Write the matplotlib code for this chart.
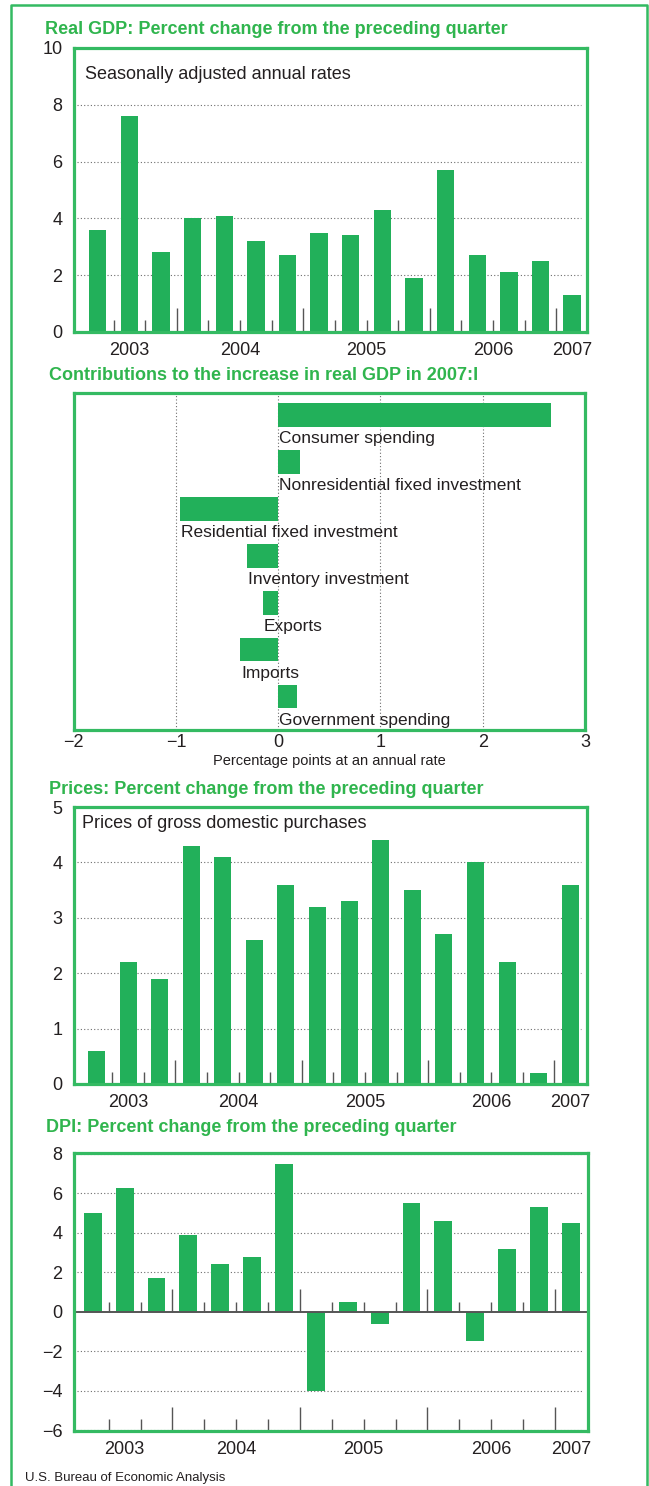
import matplotlib.pyplot as plt
from matplotlib.lines import Line2D

plt.rcParams['font.family'] = ['Liberation Sans', 'DejaVu Sans']

# quarters shown in the three bar panels
quarters = ['2003:II', '2003:III', '2003:IV',
            '2004:I', '2004:II', '2004:III', '2004:IV',
            '2005:I', '2005:II', '2005:III', '2005:IV',
            '2006:I', '2006:II', '2006:III', '2006:IV',
            '2007:I']

gdp = [3.6, 7.6, 2.8, 4.0, 4.1, 3.2, 2.7, 3.5, 3.4, 4.3, 1.9, 5.7, 2.7, 2.1, 2.5, 1.3]
prices = [0.6, 2.2, 1.9, 4.3, 4.1, 2.6, 3.6, 3.2, 3.3, 4.4, 3.5, 2.7, 4.0, 2.2, 0.2, 3.6]
dpi = [5.0, 6.3, 1.7, 3.9, 2.4, 2.8, 7.5, -4.0, 0.5, -0.6, 5.5, 4.6, -1.5, 3.2, 5.3, 4.5]

components = ['Consumer spending', 'Nonresidential fixed investment',
              'Residential fixed investment', 'Inventory investment',
              'Exports', 'Imports', 'Government spending']
contributions = [2.67, 0.21, -0.96, -0.31, -0.15, -0.37, 0.18]

BAR = '#22B05A'
LINE = '#34BA62'
TITLE = '#30B54E'
INK = '#231F20'
GRID = '#6E6E6E'

W, H = 649, 1486
fig = plt.figure(figsize=(W / 100, H / 100), dpi=100)


def rect(left, top, right, bottom):
    # pixel box -> figure fraction
    return [left / W, 1 - bottom / H, (right - left) / W, (bottom - top) / H]


def style_frame(ax):
    for s in ax.spines.values():
        s.set_color(LINE)
        s.set_linewidth(2.3)
        s.set_zorder(5)


# year labels sit under the middle of each year's bars
years = []
for q in quarters:
    y = q.split(':')[0]
    if y not in years:
        years.append(y)
year_pos = [sum(i for i, q in enumerate(quarters) if q.startswith(y)) /
            sum(1 for q in quarters if q.startswith(y)) for y in years]
# boundaries between bars; the ones before a first quarter are taller
bounds = [i + 0.5 for i in range(len(quarters) - 1)]
major = [quarters[i + 1].endswith(':I') for i in range(len(quarters) - 1)]


def quarter_panel(box, values, ylim, yticks, xlim, width, note=None, zero_line=False):
    ax = fig.add_axes(rect(*box))
    x = list(range(len(values)))
    ax.bar(x, values, width=width, color=BAR, zorder=3)
    ax.set_xlim(xlim)
    ax.set_ylim(ylim)
    ax.set_yticks(yticks)
    ax.set_yticklabels([f'{t:g}'.replace('-', '\u2212') for t in yticks])
    for t in yticks:
        if t != 0 or not zero_line:
            ax.axhline(t, xmin=0.006, xmax=0.988, color=GRID, lw=0.8,
                       ls=(0, (1, 2)), zorder=1)
    ax.set_xticks(year_pos)
    ax.set_xticklabels(years)
    ax.tick_params(axis='both', length=0, labelsize=13, colors=INK)
    ax.tick_params(axis='y', pad=8)
    ax.tick_params(axis='x', pad=7)
    tr = ax.get_xaxis_transform()
    for b, m in zip(bounds, major):
        ax.vlines(b, 0, 0.086 if m else 0.043, transform=tr,
                  color='#555555', lw=1, zorder=2)
    if zero_line:
        ax.axhline(0, color='#555555', lw=1.4, zorder=4)
        span = ylim[1] - ylim[0]
        for b, m in zip(bounds, major):
            ax.vlines(b, 0, (0.08 if m else 0.035) * span,
                      color='#555555', lw=1, zorder=2)
    if note:
        ax.text(note[0], note[1], note[2], transform=ax.transAxes,
                fontsize=13, color=INK, va='center', ha='left')
    style_frame(ax)
    return ax


def title(x, y, s):
    fig.text(x / W, 1 - y / H, s, fontsize=13, fontweight='bold',
             color=TITLE, va='center', ha='left')


# outer frame (open at the bottom)
fig.add_artist(Line2D([11 / W, 11 / W, 647 / W, 647 / W],
                      [0, 1 - 5 / H, 1 - 5 / H, 0],
                      transform=fig.transFigure, color=LINE, lw=1.8))

# panel 1: real GDP
title(45, 29, 'Real GDP: Percent change from the preceding quarter')
quarter_panel((73.7, 48, 587, 332), gdp, (0, 10), [0, 2, 4, 6, 8, 10],
              (-0.76, 15.47), 0.55,
              note=(0.022, 0.905, 'Seasonally adjusted annual rates'))

# panel 2: contributions
title(49, 375, 'Contributions to the increase in real GDP in 2007:I')
ax2 = fig.add_axes(rect(73.7, 393, 585, 730))
yy = list(range(len(components)))
ax2.barh(yy, contributions, height=0.5, color=BAR, zorder=3)
ax2.set_xlim(-2, 3)
ax2.set_ylim(6.71, -0.47)
ax2.set_yticks([])
ax2.set_xticks([-2, -1, 0, 1, 2, 3])
ax2.set_xticklabels(['\u22122', '\u22121', '0', '1', '2', '3'])
ax2.tick_params(axis='x', length=0, labelsize=13, colors=INK, pad=3)
for g in [-1, 0, 1, 2]:
    ax2.axvline(g, color=GRID, lw=0.8, ls=(0, (1, 2)), zorder=1)
for i, (name, v) in enumerate(zip(components, contributions)):
    ax2.text(min(0, v) + 0.01, i + 0.35, name, fontsize=12.5, color=INK,
             va='top', ha='left', zorder=4)
ax2.set_xlabel('Percentage points at an annual rate', fontsize=10.5,
               color=INK, labelpad=2)
style_frame(ax2)

# panel 3: prices
title(49, 789, 'Prices: Percent change from the preceding quarter')
quarter_panel((73.7, 807, 587, 1084), prices, (0, 5), [0, 1, 2, 3, 4, 5],
              (-0.72, 15.53), 0.54,
              note=(0.016, 0.942, 'Prices of gross domestic purchases'))

# panel 4: DPI
title(46, 1127, 'DPI: Percent change from the preceding quarter')
quarter_panel((73.7, 1153, 588, 1431), dpi, (-6.05, 8.05),
              [-6, -4, -2, 0, 2, 4, 6, 8], (-0.6, 15.54), 0.56,
              zero_line=True)

fig.text(25 / W, 1 - 1478 / H, 'U.S. Bureau of Economic Analysis',
         fontsize=9.5, color=INK, va='center', ha='left')

fig.savefig('out.png', dpi=100)
